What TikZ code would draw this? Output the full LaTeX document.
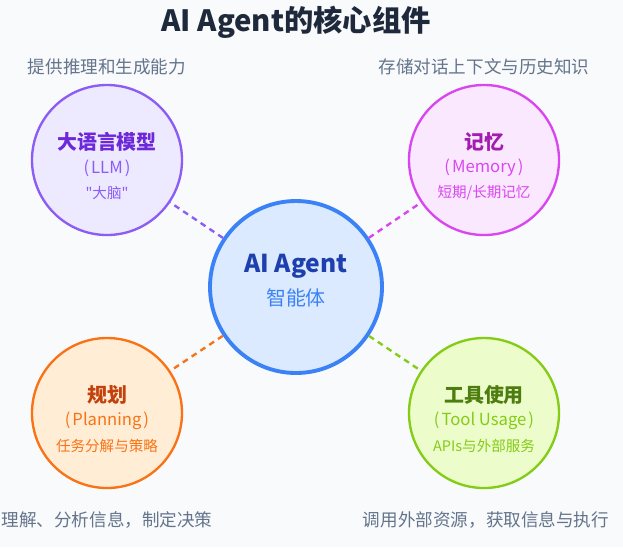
\documentclass[tikz,border=0pt]{standalone}
\usepackage{fontspec}
\setmainfont{Noto Sans CJK SC}[Ligatures=TeXOff]
\usetikzlibrary{positioning}
\definecolor{bgc}{HTML}{F8FAFC}
\definecolor{titlec}{HTML}{1E293B}
\definecolor{descc}{HTML}{64748B}
\definecolor{hubfill}{HTML}{DBEAFE}
\definecolor{hubline}{HTML}{3B82F6}
\definecolor{hubtext}{HTML}{1E40AF}
\definecolor{llmfill}{HTML}{EDE9FE}
\definecolor{llmline}{HTML}{8B5CF6}
\definecolor{llmtext}{HTML}{6D28D9}
\definecolor{memfill}{HTML}{FAE8FF}
\definecolor{memline}{HTML}{D946EF}
\definecolor{memtext}{HTML}{A21CAF}
\definecolor{planfill}{HTML}{FFEDD5}
\definecolor{planline}{HTML}{F97316}
\definecolor{plantext}{HTML}{C2410C}
\definecolor{toolfill}{HTML}{ECFCCB}
\definecolor{toolline}{HTML}{84CC16}
\definecolor{tooltext}{HTML}{4D7C0F}

\begin{document}
\begin{tikzpicture}[x=0.03cm, y=-0.03cm,
  comp/.style={circle, draw, line width=2pt, minimum size=4.5cm, inner sep=0pt},
  hub/.style={circle, draw=hubline, fill=hubfill, line width=3.3pt, minimum size=5.16cm, inner sep=0pt},
  ttl/.style={font=\fontsize{17}{20}\selectfont\bfseries},
  sub/.style={font=\fontsize{14.2}{16}\selectfont},
  note/.style={font=\fontsize{12.4}{15}\selectfont},
  desc/.style={font=\fontsize{15}{18}\selectfont, text=descc},
  link/.style={line width=2pt, dash pattern=on 5pt off 4pt}]
\fill[bgc] (0,0) rectangle (623,547);
\useasboundingbox (0,0) rectangle (623,547);
\node[font=\fontsize{25}{29}\selectfont\bfseries, text=titlec] (title) at (296,22) {AI Agent的核心组件};
% agent in the middle
\node[hub] (agent) at (296,287) {};
\node[font=\fontsize{21}{24}\selectfont\bfseries, text=hubtext] (agentT) at (296,266) {AI Agent};
\node[font=\fontsize{17}{20}\selectfont, text=hubline] (agentS) at (296,298) {智能体};
% four components
\node[comp, draw=llmline, fill=llmfill] (llm) at (107,160) {};
\node[ttl, text=llmtext] (llmT) at (107,142) {大语言模型};
\node[sub, text=llmline] (llmS) at (107,168) {(\hspace{0.12em}LLM\hspace{0.12em})};
\node[note, text=llmline] (llmN) at (107,193) {"大脑"};
\node[comp, draw=memline, fill=memfill] (mem) at (484,160) {};
\node[ttl, text=memtext] (memT) at (484,142) {记忆};
\node[sub, text=memline] (memS) at (484,168) {(\hspace{0.12em}Memory\hspace{0.12em})};
\node[note, text=memline] (memN) at (484,193) {短期/长期记忆};
\node[comp, draw=planline, fill=planfill] (plan) at (107,413) {};
\node[ttl, text=plantext] (planT) at (107,395) {规划};
\node[sub, text=planline] (planS) at (107,421) {(\hspace{0.12em}Planning\hspace{0.12em})};
\node[note, text=planline] (planN) at (107,446) {任务分解与策略};
\node[comp, draw=toolline, fill=toolfill] (tool) at (484,413) {};
\node[ttl, text=tooltext] (toolT) at (484,395) {工具使用};
\node[sub, text=toolline] (toolS) at (484,421) {(\hspace{0.12em}Tool Usage\hspace{0.12em})};
\node[note, text=toolline] (toolN) at (484,446) {APIs与外部服务};
% descriptions
\node[desc] (llmD) at (107,67) {提供推理和生成能力};
\node[desc] (memD) at (484,67) {存储对话上下文与历史知识};
\node[desc] (planD) at (107,520) {理解、分析信息，制定决策};
\node[desc] (toolD) at (486,520) {调用外部资源，获取信息与执行};
% links
\draw[link, llmline] (agent) -- (llm);
\draw[link, memline] (agent) -- (mem);
\draw[link, planline] (agent) -- (plan);
\draw[link, toolline] (agent) -- (tool);
\end{tikzpicture}
\end{document}
